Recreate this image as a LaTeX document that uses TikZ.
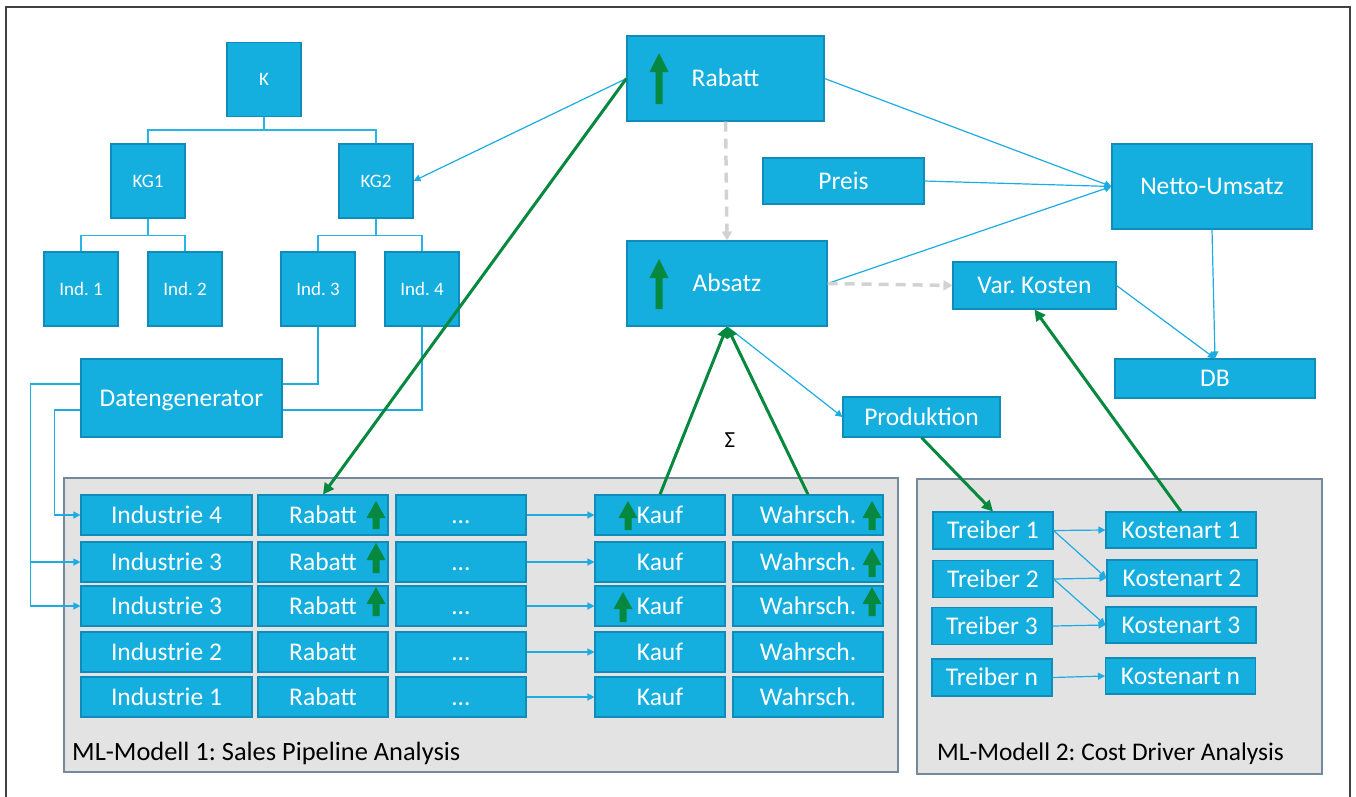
\documentclass[tikz,border=0pt]{standalone}
\usepackage{fontspec}
\setmainfont{Carlito}
\usetikzlibrary{arrows.meta}
\frenchspacing
\definecolor{bxfill}{RGB}{20,174,223}
\definecolor{bxedge}{RGB}{16,140,186}
\definecolor{lnblue}{RGB}{28,172,226}
\definecolor{trblue}{RGB}{40,180,230}
\definecolor{ggreen}{RGB}{6,137,62}
\definecolor{pfill}{RGB}{227,227,227}
\definecolor{pedge}{RGB}{118,136,156}
\definecolor{dgray}{RGB}{210,210,210}
\definecolor{frcol}{RGB}{64,64,64}
\newcommand\greenup[4]{%
  \fill[ggreen] ({#1-3.5},#2) -- ({#1+3.5},#2) -- ({#1+3.5},{#3+#4}) -- ({#1+9.5},{#3+#4}) -- (#1,#3) -- ({#1-9.5},{#3+#4}) -- ({#1-3.5},{#3+#4}) -- cycle;}
\begin{document}
\frenchspacing
\begin{tikzpicture}[x=1pt,y=-1pt,
  box/.style={draw=bxedge, fill=bxfill, line width=1.1pt, text=white, inner sep=0pt,
    font=\fontsize{25.5}{30}\selectfont, text height=16.5pt, text depth=0pt, align=center},
  tbox/.style={box, font=\fontsize{19}{22}\selectfont, text height=12.2pt, minimum width=74pt, minimum height=74pt},
  cbox/.style={box, minimum height=40pt},
  conn/.style={draw=lnblue, line width=1.2pt},
  tline/.style={draw=trblue, line width=1.5pt},
  arr/.style={conn, -{Triangle[length=7pt,width=7pt]}},
  garr/.style={draw=ggreen, line width=3pt, -{Triangle[length=11pt,width=11pt]}},
  grayd/.style={draw=dgray, line width=3.5pt, dash pattern=on 10pt off 7pt, -{Triangle[length=9pt,width=10pt]}},
  panel/.style={fill=pfill, draw=pedge, line width=1.5pt, inner sep=0pt},
  lbl/.style={font=\fontsize{26.4}{31}\selectfont, anchor=base west, inner sep=0pt}
]
\useasboundingbox (0,0) rectangle (1356,796);
\draw[frcol, line width=2pt] (6,800) -- (6,7) -- (1350,7) -- (1350,800);

% panels
\node[panel, minimum width=834pt, minimum height=294pt] (P1) at (481,625) {};
\node[panel, minimum width=405pt, minimum height=295pt] (P2) at (1119.5,626.5) {};
\node[lbl] (L1) at (72,760) {ML-Modell 1: Sales Pipeline Analysis};
\node[lbl, font=\fontsize{25.4}{30}\selectfont] (L2) at (937,760) {ML-Modell 2: Cost Driver Analysis};

% tree
\node[tbox] (K) at (264,79.5) {K};
\node[tbox] (KG1) at (148,181) {KG1};
\node[tbox] (KG2) at (376,181) {KG2};
\node[tbox] (I1) at (81,289) {Ind. 1};
\node[tbox] (I2) at (185,289) {Ind. 2};
\node[tbox] (I3) at (318,289) {Ind. 3};
\node[tbox] (I4) at (422,289) {Ind. 4};
\draw[tline] (K.south) -- ++(0,13) -| (KG1.north);
\draw[tline] (K.south) -- ++(0,13) -| (KG2.north);
\draw[tline] (KG1.south) -- ++(0,17) -| (I1.north);
\draw[tline] (KG1.south) -- ++(0,17) -| (I2.north);
\draw[tline] (KG2.south) -- ++(0,17) -| (I3.north);
\draw[tline] (KG2.south) -- ++(0,17) -| (I4.north);

\node[box, minimum width=201pt, minimum height=78pt] (Dat) at (181.5,398) {Datengenerator};
\draw[conn] (I3.south) |- ([yshift=14pt]Dat.east);
\draw[conn] (I4.south) |- ([yshift=-12pt]Dat.east);

% main flow
\node[box, minimum width=197pt, minimum height=85pt] (RabT) at (725.5,78.5) {Rabatt};
\node[box, minimum width=161pt, minimum height=46pt] (Preis) at (843.5,181) {Preis};
\node[box, minimum width=200pt, minimum height=85pt] (Abs) at (727,283.5) {Absatz};
\node[box, minimum width=200pt, minimum height=85pt] (Net) at (1212,186.5) {Netto-Umsatz};
\node[box, minimum width=163pt, minimum height=47pt] (VarK) at (1034.5,285.5) {Var. Kosten};
\node[box, minimum width=200pt, minimum height=39pt] (DB) at (1215,378.5) {DB};
\node[box, minimum width=157pt, minimum height=40pt] (Prod) at (921.5,417) {Produktion};
\node[font=\fontsize{23}{26}\selectfont, inner sep=0pt] (sig) at (730,440) {Σ};
\greenup{659}{104}{53}{19}
\greenup{659}{309}{259}{19}

% table
\foreach \r/\y/\ind in {1/515/Industrie 4, 2/562/Industrie 3, 3/606/Industrie 3, 4/652/Industrie 2, 5/697/Industrie 1}{
  \node[cbox, minimum width=171pt] (I\r) at (166.5,\y) {\ind};
  \node[cbox, minimum width=130pt] (R\r) at (323,\y) {Rabatt};
  \node[cbox, minimum width=130pt] (D\r) at (461,\y) {…};
  \node[cbox, minimum width=130pt] (Kf\r) at (660,\y) {Kauf};
  \node[cbox, minimum width=150pt] (W\r) at (808,\y) {Wahrsch.};
  \draw[arr] (D\r.east) -- (Kf\r.west);
}
\greenup{376}{529}{501}{17}
\greenup{376}{573}{543}{17}
\greenup{376}{616}{587}{17}
\greenup{628}{530}{501}{17}
\greenup{623}{622}{592}{17}
\greenup{872}{530}{501}{17}
\greenup{872}{577}{548}{17}
\greenup{872}{616}{587}{17}

\draw[arr] ([yshift=14pt]Dat.west) -| ([xshift=-50pt]I2.west) -- (I2.west);
\draw[arr] ([yshift=14pt]Dat.west) -| ([xshift=-50pt]I3.west) -- (I3.west);
\draw[arr] ([yshift=-12pt]Dat.west) -| ([xshift=-26pt]I1.west) -- (I1.west);

% cost driver
\node[box, minimum width=120pt, minimum height=37pt] (T1) at (993,530.5) {Treiber 1};
\node[box, minimum width=120pt, minimum height=37pt] (T2) at (993,579) {Treiber 2};
\node[box, minimum width=120pt, minimum height=37pt] (T3) at (992,626) {Treiber 3};
\node[box, minimum width=120pt, minimum height=37pt] (Tn) at (992,677.5) {Treiber n};
\node[box, minimum width=150pt, minimum height=36pt] (C1) at (1181,530) {Kostenart 1};
\node[box, minimum width=150pt, minimum height=36pt] (C2) at (1182,578) {Kostenart 2};
\node[box, minimum width=150pt, minimum height=36pt] (C3) at (1181,625) {Kostenart 3};
\node[box, minimum width=150pt, minimum height=36pt] (Cn) at (1180.5,676) {Kostenart n};
\draw[arr] (T1.east) -- (C1.west);
\draw[arr] (T1.east) -- (C2.west);
\draw[arr] (T2.east) -- (C2.west);
\draw[arr] (T2.east) -- (C3.west);
\draw[arr] (T3.east) -- (C3.west);
\draw[arr] (Tn.east) -- (Cn.west);

% connectors
\draw[arr] (RabT.west) -- (KG2.east);
\draw[arr] (RabT.east) -- (Net.west);
\draw[arr] (Preis.east) -- (Net.west);
\draw[arr] (Abs.east) -- (Net.west);
\draw[arr] (Net.south) -- (DB.north);
\draw[arr] (VarK.east) -- (DB.north);
\draw[arr] (Abs.south) -- (Prod.west);
\draw[grayd] (RabT.south) -- (Abs.north);
\draw[grayd] (Abs.east) -- (VarK.west);
\draw[garr] (RabT.west) -- (R1.north);
\draw[garr] (Kf1.north) -- (Abs.south);
\draw[garr] (W1.north) -- (Abs.south);
\draw[garr] (Prod.south) -- (T1.north);
\draw[garr] (C1.north) -- (VarK.south);
\end{tikzpicture}
\end{document}
